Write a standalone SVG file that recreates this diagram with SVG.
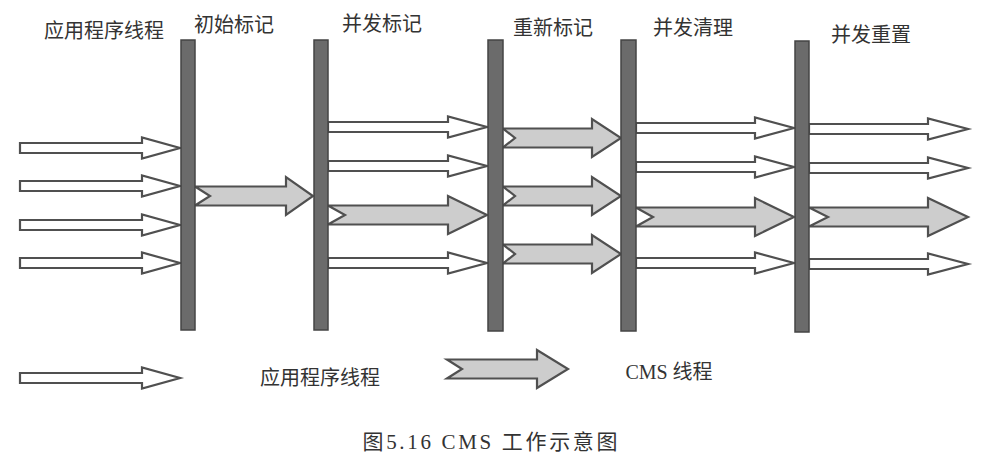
<svg xmlns="http://www.w3.org/2000/svg" width="994" height="469" viewBox="0 0 994 469">
<style>
text{font-family:"Liberation Serif","Noto Sans CJK SC",serif;fill:#333;dominant-baseline:central;text-anchor:middle}
.lbl{font-size:20px}
.cap{font-size:21px}
.app{fill:#fff;stroke:#505050;stroke-width:2.2;stroke-linejoin:miter}
.cms{fill:#cdcdcd;stroke:#505050;stroke-width:2.2;stroke-linejoin:miter}
.bar{fill:#6b6b6b;stroke:#444;stroke-width:1.5}
</style>
<rect width="994" height="469" fill="#fff"/>
<text id="app-label" class="lbl" x="104" y="31">应用程序线程</text>
<g id="connectors">
<polygon class="app" points="20,143 142,143 142,137.5 180,148 142,158.5 142,153 20,153"/>
<polygon class="app" points="20,181 142,181 142,175.5 180,186 142,196.5 142,191 20,191"/>
<polygon class="app" points="20,220 142,220 142,214.5 180,225 142,235.5 142,230 20,230"/>
<polygon class="app" points="20,258 142,258 142,252.5 180,263 142,273.5 142,268 20,268"/>
<polygon class="cms" points="195,186.5 286,186.5 286,177 313,196 286,215 286,205.5 195,205.5 210,196"/>
<polygon class="app" points="328,122 448,122 448,116.5 487,127 448,137.5 448,132 328,132"/>
<polygon class="app" points="328,161 448,161 448,155.5 487,166 448,176.5 448,171 328,171"/>
<polygon class="app" points="328,258 448,258 448,252.5 487,263 448,273.5 448,268 328,268"/>
<polygon class="cms" points="328,205.5 448,205.5 448,196 487,215 448,234 448,224.5 328,224.5 345,215"/>
<polygon class="cms" points="503,128.5 592,128.5 592,119 621,138 592,157 592,147.5 503,147.5 515,138"/>
<polygon class="cms" points="503,186.5 592,186.5 592,177 621,196 592,215 592,205.5 503,205.5 515,196"/>
<polygon class="cms" points="503,244.5 592,244.5 592,235 621,254 592,273 592,263.5 503,263.5 515,254"/>
<polygon class="app" points="636,123 755,123 755,117.5 794,128 755,138.5 755,133 636,133"/>
<polygon class="app" points="636,162 755,162 755,156.5 794,167 755,177.5 755,172 636,172"/>
<polygon class="app" points="636,258 755,258 755,252.5 794,263 755,273.5 755,268 636,268"/>
<polygon class="cms" points="636,207.5 755,207.5 755,198 794,217 755,236 755,226.5 636,226.5 653,217"/>
<polygon class="app" points="809,124 928,124 928,118.5 968,129 928,139.5 928,134 809,134"/>
<polygon class="app" points="809,163 928,163 928,157.5 968,168 928,178.5 928,173 809,173"/>
<polygon class="app" points="809,259 928,259 928,253.5 968,264 928,274.5 928,269 809,269"/>
<polygon class="cms" points="809,207.5 928,207.5 928,198 968,217 928,236 928,226.5 809,226.5 828,217"/>
</g>
<g id="initial-mark"><rect class="bar" x="181" y="40" width="14" height="290"/><text class="lbl" x="234" y="25">初始标记</text></g>
<g id="concurrent-mark"><rect class="bar" x="314" y="40" width="14" height="290"/><text class="lbl" x="382" y="24">并发标记</text></g>
<g id="remark"><rect class="bar" x="488" y="40" width="15" height="291"/><text class="lbl" x="553" y="28">重新标记</text></g>
<g id="concurrent-sweep"><rect class="bar" x="621" y="40" width="15" height="291"/><text class="lbl" x="693" y="28">并发清理</text></g>
<g id="concurrent-reset"><rect class="bar" x="795" y="41" width="14" height="291"/><text class="lbl" x="871" y="35">并发重置</text></g>
<g id="legend">
<polygon class="app" points="20,373 142,373 142,367.5 180,378 142,388.5 142,383 20,383"/>
<text class="lbl" x="320" y="378">应用程序线程</text>
<polygon class="cms" points="447,359.5 537,359.5 537,350 568,369 537,388 537,378.5 447,378.5 462,369"/>
<text class="lbl" x="669" y="372">CMS 线程</text>
</g>
<text id="caption" class="cap" x="490" y="442" textLength="255" lengthAdjust="spacing">图5.16  CMS 工作示意图</text>
</svg>
